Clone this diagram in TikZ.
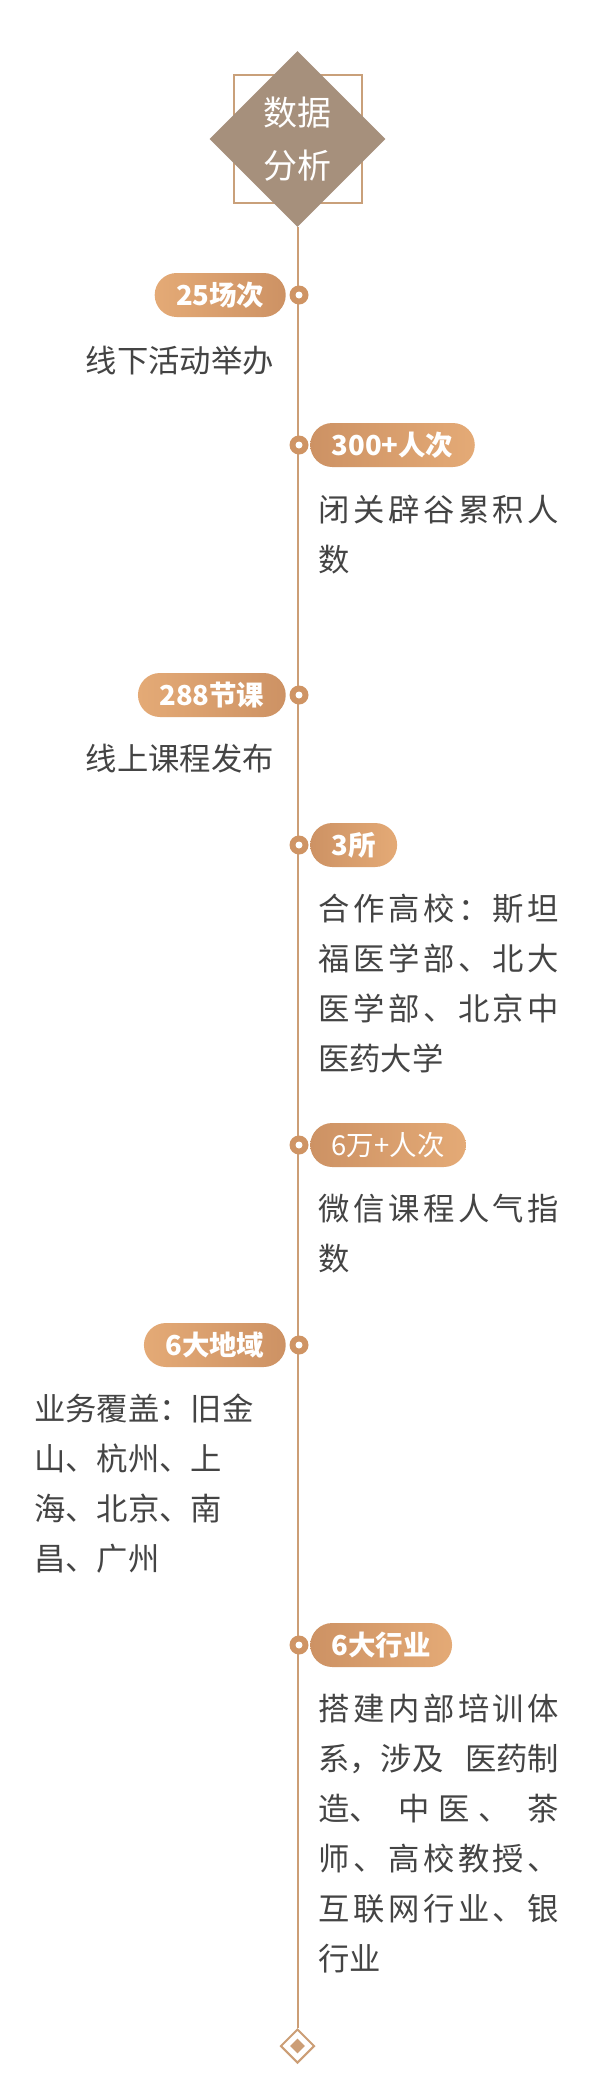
\documentclass[tikz,border=0pt]{standalone}
\usepackage{fontspec}
\setmainfont{Noto Sans CJK SC}
\usetikzlibrary{shapes.geometric}
\definecolor{linec}{RGB}{204,158,118}
\definecolor{ringc}{RGB}{207,148,100}
\definecolor{pdark}{RGB}{205,146,100}
\definecolor{plight}{RGB}{228,170,118}
\definecolor{taupe}{RGB}{166,144,124}
\definecolor{sqc}{RGB}{201,160,122}
\definecolor{txt}{RGB}{68,68,68}
\def\sploop#1{\ifx\relax#1\else\hfill#1\expandafter\sploop\fi}
\newcommand\jl[1]{\makebox[180.75pt][s]{\hskip 0pt plus -1fill\sploop#1\relax}}
\newcommand\blk[1]{\parbox[t]{200pt}{\raggedright\fontsize{23.5pt}{37.5pt}\selectfont #1}}
\begin{document}
\begin{tikzpicture}[x=0.75pt,y=-0.75pt,
  pillbase/.style={rounded corners=16.5pt, minimum height=33pt, inner xsep=16pt, inner ysep=0pt, text height=15.4pt, text depth=0pt, text=white, font=\fontsize{20.6pt}{24pt}\selectfont\bfseries},
  lpill/.style={pillbase, anchor=east, left color=plight, right color=pdark},
  rpill/.style={pillbase, anchor=west, left color=pdark, right color=plight},
  ring/.style={circle, fill=ringc, minimum size=14.25pt, inner sep=0pt},
  hole/.style={circle, fill=white, minimum size=5.25pt, inner sep=0pt},
  body/.style={inner sep=0pt, text=txt, font=\fontsize{23.5pt}{37.5pt}\selectfont},
  ttl/.style={inner sep=0pt, text=white, anchor=base, font=\fontsize{25.5pt}{30pt}\selectfont},
]
\useasboundingbox[fill=white] (0,0) rectangle (590,2081);
% title
\node (frame) [draw=sqc, line width=1.5pt, minimum size=96pt, inner sep=0pt] at (298,138.5) {};
\node (title) [diamond, fill=taupe, minimum width=132pt, minimum height=132pt, inner sep=0pt] at (297.5,139) {};
\node (ttla) [ttl] at (297.5,125) {数据};
\node (ttlb) [ttl] at (297.5,178) {分析};
% end
\node (end) [diamond, draw=linec, line width=1.5pt, fill=white, minimum width=25.5pt, minimum height=25.5pt, inner sep=0pt] at (297.5,2046) {};
\node (endc) [diamond, fill=linec, minimum width=11.25pt, minimum height=11.25pt, inner sep=0pt] at (297.5,2046) {};
\draw[linec, line width=1.5pt] (title.south) -- (end.north);
% markers
\foreach \n/\yy in {1/295,2/445,3/695,4/845,5/1145,6/1345,7/1645}{
  \node (m\n) [ring] at (299,\yy) {};
  \node (h\n) [hole] at (299,\yy) {};
}
% pills
\node (p1) [lpill] at (286,295) {25场次};
\node (p2) [rpill] at (310,445) {300+人次};
\node (p3) [lpill] at (286,695) {288节课};
\node (p4) [rpill] at (310,845) {3所};
\node (p5) [rpill, font=\fontsize{20.6pt}{24pt}\selectfont] at (310,1145) {6万+人次};
\node (p6) [lpill] at (286,1345) {6大地域};
\node (p7) [rpill] at (310,1645) {6大行业};
% texts
\node (t1) [body, anchor=base east] at (274,372) {线下活动举办};
\node (t2) [body, anchor=base west] at (318,521) {\blk{\jl{闭关辟谷累积人}\\数}};
\node (t3) [body, anchor=base east] at (274,770) {线上课程发布};
\node (t4) [body, anchor=base west] at (318,920) {\blk{\jl{合作高校：斯坦}\\\jl{福医学部、北大}\\\jl{医学部、北京中}\\医药大学}};
\node (t5) [body, anchor=base west] at (318,1220) {\blk{\jl{微信课程人气指}\\数}};
\node (t6) [body, anchor=base west] at (34,1420) {\blk{业务覆盖：旧金\\山、杭州、上\\海、北京、南\\昌、广州}};
\node (t7) [body, anchor=base west] at (318,1720) {\blk{\jl{搭建内部培训体}\\\makebox[180.75pt][s]{系，涉及\hfill 医药制}\\\makebox[180.75pt][s]{造、\hfill\hfill 中\hfill 医\hfill 、\hfill\hfill 茶}\\\jl{师、高校教授、}\\\jl{互联网行业、银}\\行业}};
\end{tikzpicture}
\end{document}
